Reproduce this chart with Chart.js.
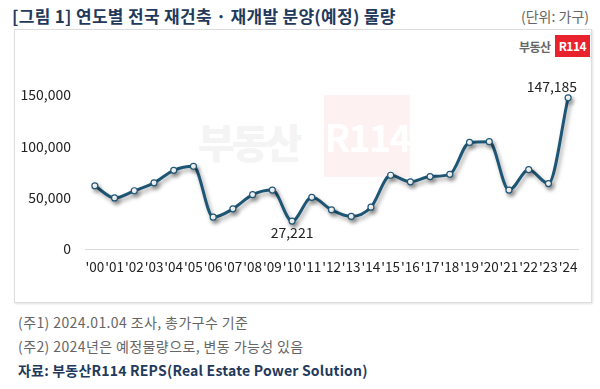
<!DOCTYPE html>
<html><head><meta charset="utf-8">
<script src="https://cdn.jsdelivr.net/npm/chart.js@4/dist/chart.umd.min.js"></script>
<style>
html,body{margin:0;padding:0;background:#fff;width:600px;height:389px;overflow:hidden;font-family:"Noto Sans CJK KR","Noto Sans",sans-serif;}
#title{position:absolute;left:12px;top:3px;font-size:17px;font-weight:bold;color:#1f3a5c;white-space:nowrap;letter-spacing:0.3px;}
#unit{position:absolute;right:11px;top:6px;font-size:14px;color:#666;}
#box{position:absolute;left:14px;top:29px;width:576px;height:272px;border:1px solid #ddd;box-shadow:1px 1px 2px #e4e4e4;}
#logo{position:absolute;left:519px;top:35px;height:22px;display:flex;align-items:center;}
#logo .t{font-size:12px;font-weight:bold;color:#666;letter-spacing:-0.5px;margin-right:4px;}
#logo .r{background:#e8232e;color:#fff;font-weight:bold;font-size:12px;padding:0 4px;height:22px;line-height:22px;box-sizing:border-box;letter-spacing:-0.5px;}
#wm1{position:absolute;left:198px;top:112px;font-size:40px;font-weight:900;color:#f4f4f4;letter-spacing:-3px;}
#wm2{position:absolute;left:324px;top:95px;width:86px;height:82px;background:#fdf1f1;color:#fff;font-size:38px;font-weight:bold;line-height:82px;text-align:center;letter-spacing:-2px;}
#c{position:absolute;left:15px;top:60px;}
.fn{position:absolute;left:18px;font-size:14px;color:#666;white-space:nowrap;letter-spacing:0.4px;}
#src{position:absolute;left:18px;top:360px;font-size:14px;font-weight:bold;color:#1f3a5c;white-space:nowrap;letter-spacing:0.2px;}
</style></head>
<body>
<div id="title">[그림 1] 연도별 전국 재건축 · 재개발 분양(예정) 물량</div>
<div id="unit">(단위: 가구)</div>
<div id="box"></div>
<div id="wm1">부동산</div>
<div id="wm2">R114</div>
<div id="logo"><span class="t">부동산</span><span class="r">R114</span></div>
<canvas id="c" width="575" height="225"></canvas>
<div class="fn" style="top:312px">(주1) 2024.01.04 조사, 총가구수 기준</div>
<div class="fn" style="top:336px">(주2) 2024년은 예정물량으로, 변동 가능성 있음</div>
<div id="src">자료: 부동산R114 REPS(Real Estate Power Solution)</div>
<script>
const years = ["'00","'01","'02","'03","'04","'05","'06","'07","'08","'09","'10","'11","'12","'13","'14","'15","'16","'17","'18","'19","'20","'21","'22","'23","'24"];
const supply = [61500,49700,56700,64400,76600,80500,31000,39100,52900,57400,27221,50300,38100,31700,40700,71800,65400,70500,72700,103800,104500,57400,77200,63700,147185];
const yTicks = [0,50000,100000,150000];
const labeledIdx = [10,24];

const fmt = v => v.toLocaleString('en-US');
const FONT = '"Noto Sans CJK KR","Noto Sans",sans-serif';

const shadowPlugin = {
  id:'shadow',
  beforeDatasetDraw(chart){ const c=chart.ctx; c.save(); c.shadowColor='rgba(0,0,0,0.35)'; c.shadowBlur=4; c.shadowOffsetX=2; c.shadowOffsetY=3; },
  afterDatasetDraw(chart){ chart.ctx.restore(); }
};
const labelPlugin = {
  id:'lbl',
  afterDatasetsDraw(chart){
    const c=chart.ctx, meta=chart.getDatasetMeta(0);
    c.save(); c.font='14px '+FONT; c.fillStyle='#222';
    labeledIdx.forEach(i=>{
      const p=meta.data[i];
      if(i===24){ c.textAlign='right'; c.textBaseline='bottom'; c.fillText(fmt(supply[i]), p.x+9, p.y-4); }
      else { c.textAlign='center'; c.textBaseline='top'; c.fillText(fmt(supply[i]), p.x, p.y+5); }
    });
    c.restore();
  }
};

new Chart(document.getElementById('c'),{
  type:'line',
  data:{labels:years,datasets:[{data:supply,borderColor:'#1e5675',borderWidth:3,tension:0.4,cubicInterpolationMode:'monotone',
    pointRadius:3,pointBackgroundColor:'#fff',pointBorderColor:'#1e5675',pointBorderWidth:1.2,fill:false}]},
  options:{
    responsive:false,animation:false,
    layout:{padding:{left:0,right:12,top:12,bottom:0}},
    plugins:{legend:{display:false},tooltip:{enabled:false}},
    scales:{
      x:{offset:true,grid:{display:false},border:{display:true,color:'#d9d9d9',width:1},
        ticks:{autoSkip:false,maxRotation:0,minRotation:0,padding:2,color:'#222',font:{size:13.5,family:FONT}},
        afterFit(a){a.height=36;}},
      y:{min:0,max:170000,grid:{display:false},border:{display:false},
        afterBuildTicks(a){a.ticks=yTicks.map(v=>({value:v}));},
        ticks:{padding:6,color:'#222',font:{size:14,family:FONT},callback:v=>fmt(v)},
        afterFit(a){a.width=70;}}
    }
  },
  plugins:[shadowPlugin,labelPlugin]
});
</script>
</body></html>
